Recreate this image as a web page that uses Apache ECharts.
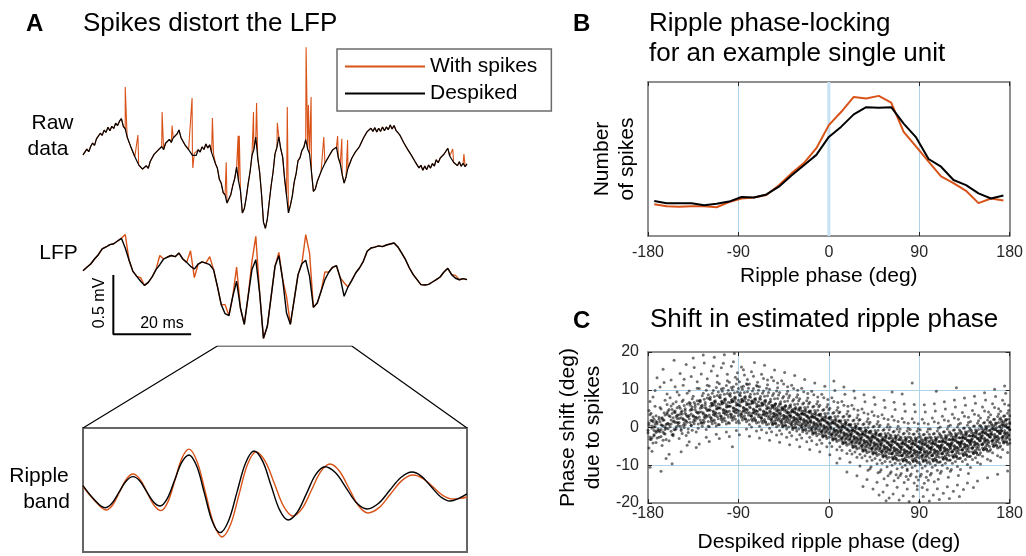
<!DOCTYPE html>
<html>
<head>
<meta charset="utf-8">
<script src="https://cdn.jsdelivr.net/npm/echarts@6.0.0/dist/echarts.min.js"></script>
<style>
  html, body { margin: 0; padding: 0; background: #fff; }
  #chart { width: 1026px; height: 556px; }
</style>
</head>
<body>
<div id="chart"></div>
<script>
// ---------- Panel A: 100 ms of hippocampal recording (µV) ----------
const rawStepMs = 0.5;
const rawDespiked = [
  -128,-143,-78,-100,-56,-26,-46,10,2,58,40,85,65,110,80,117,99,144,124,161,
  184,117,96,25,9,-63,-71,-143,-151,-213,-200,-249,-259,-221,-243,-184,-186,-123,-135,-89,
  -104,-56,-83,-28,-38,6,-21,19,4,52,86,22,9,-39,-28,-83,-84,-131,-114,-131,
  -83,-103,-59,-81,-34,-68,-42,-108,-119,-203,-242,-336,-371,-451,-471,-540,-504,-467,-390,-331,
  -233,-353,-433,-625,-590,-496,-376,-274,-133,-81,25,-153,-276,-467,-704,-757,-676,-531,-390,-274,
  -119,-63,28,-77,-147,-331,-476,-625,-561,-481,-361,-288,-176,-153,-90,-63,4,-77,-119,-274,
  -440,-420,-356,-343,-271,-265,-199,-201,-142,-143,-85,-101,-61,-153,-204,-296,-370,-317,-242,-229,
  -156,-158,-99,-108,-56,-51,15,14,72,57,101,74,106,69,101,74,111,79,112,88,
  129,94,124,83,96,43,44,-21,-25,-78,-71,-130,-128,-187,-185,-239,-217,-260,-223,-254,
  -214,-241,-202,-223,-169,-195,-156,-169,-122,-127,-71,-137,-142,-191,-179,-220,-186,-225,-199,-229,
  -204
];
// spike peaks present only in the unprocessed trace: [ms, µV]
const rawSpikes = [
  [11.0,454],[14.3,43],[20.6,240],[23.2,123],[28.4,360],[28.6,-240],[33.7,189],[37.3,-191],
  [40.4,37],[40.7,37],[44.4,240],[45.2,317],[50.6,148],[53.2,283],[58.1,794],[58.7,300],
  [59.4,368],[62.7,26],[66.3,34],[67.4,10],[68.9,0],[96.3,-77],[99.2,-120]
];

const lfpStepMs = 1;
const lfpDespiked = [
  20,49,77,120,157,206,223,243,251,274,297,214,109,14,-29,-71,-106,-80,-34,29,
  71,120,137,150,140,171,120,91,57,34,77,95,85,71,29,-114,-271,-349,-365,-200,
  -71,-300,-440,-200,29,114,-171,-560,-457,-200,57,149,-57,-343,-440,-229,-14,80,109,-29,
  -295,-257,-157,-57,6,49,63,-43,-200,-120,-63,0,43,100,186,214,222,232,226,240,
  249,257,223,171,114,43,-14,-57,-100,-103,-97,-77,-57,-34,9,40,-14,-45,-58,-48,
  -57
];
const lfpWithSpikes = [
  20,49,77,120,157,206,223,243,251,274,297,330,109,14,-29,-40,-106,-80,-34,29,
  150,120,137,150,140,171,120,91,190,-40,77,95,85,140,29,-114,-271,-271,-365,-200,
  50,-300,-440,-200,100,314,-171,-560,-457,-200,57,177,-57,-200,-440,-229,-14,80,329,171,
  -295,-257,-157,10,6,49,63,-43,-83,-120,-63,0,43,100,186,214,222,232,226,240,
  249,257,223,171,114,43,-14,-57,-100,-103,-97,-77,-57,-34,9,40,-14,-20,-58,-48,
  -57
];

// ripple-band filtered signal inside the zoomed window (ms, µV)
const rippleWindow = [35, 70];
const rippleTimesDespiked = [35.0,36.0,37.0,37.64,38.28,38.92,39.56,40.18,40.79,41.41,42.02,42.68,43.34,44.0,
  44.66,45.37,46.08,46.78,47.49,48.27,49.04,49.82,50.59,51.37,52.14,52.92,53.69,54.53,55.38,56.22,
  57.06,58.02,58.98,59.93,60.89,61.92,62.94,63.97,64.99,65.86,66.72,67.59,68.45,69.2,70.0];
const rippleDespiked = [37,-80,-153,-114,-19,76,115,78,-12,-101,-138,-74,82,238,
  302,204,-33,-270,-368,-265,-16,233,336,249,39,-172,-259,-192,-29,134,
  201,148,19,-111,-164,-117,-5,108,155,118,30,-58,-95,-75,-34];
const rippleTimesWithSpikes = [35.0,36.05,37.1,37.72,38.33,38.95,39.56,40.2,40.84,41.47,42.11,42.75,43.39,44.02,
  44.66,45.41,46.17,46.92,47.67,48.45,49.22,49.99,50.77,51.61,52.46,53.3,54.14,54.98,55.83,56.67,
  57.51,58.38,59.25,60.11,60.98,62.01,63.03,64.06,65.08,65.99,66.91,67.82,68.73,69.4,70.0];
const rippleWithSpikes = [30,-90,-172,-127,-17,93,138,92,-20,-132,-178,-100,88,275,
  353,242,-26,-294,-405,-298,-39,221,328,247,52,-143,-224,-159,0,159,
  224,162,13,-136,-198,-150,-34,81,129,99,26,-48,-78,-72,-60];

const scaleBarMs = 20;
const scaleBarUv = 500;

// ---------- Panel B: spike counts per ripple-phase bin ----------
const phaseBins = [-173.8,-161.4,-149.0,-136.6,-124.1,-111.7,-99.3,-86.9,-74.5,-62.1,-49.7,-37.2,-24.8,-12.4,
  0,12.4,24.8,37.2,49.7,62.1,74.5,86.9,99.3,111.7,124.1,136.6,149.0,161.4,173.8];
const countsWithSpikes = [62,58,57,58,58,56,66,73,75,80,99,122,142,171,216,242,271,268,273,260,
  203,174,145,116,103,88,64,73,69];
const countsDespiked = [68,64,64,64,60,63,67,76,75,81,96,118,138,158,193,213,237,251,250,251,
  219,192,150,135,109,99,83,73,79];

// ---------- Panel C: per-spike phase shift, pairs of [despiked phase, shift] ----------
const shiftPoints = [
-179,1.2,-178,-2.5,-177,3.8,-176,0.4,-175,-4.1,-174,2.2,-173,5.6,-172,-1.3,-171,0.9,-180,-0.7,-179,4.5,-177,-3.2,-176,1.8,-174,-1.9,-173,0.2,-172,3.1,-171,-2.8,-178,6.9,-175,1.5,-170,-0.4,-176,-6.3,-173,9.8,-171,13.2,-178,-10.5,-175,8.1,-179,-5.4,-174,-0.8,-172,1.6,
-169,2.7,-168,-1.1,-167,4.9,-166,0.6,-165,-3.4,-164,2.0,-163,7.2,-162,-0.2,-161,3.5,-160,1.1,-169,-2.6,-168,5.3,-166,-4.8,-165,1.9,-164,3.9,-163,-1.7,-162,0.8,-161,6.1,-167,-0.5,-160,4.4,-168,10.7,-165,15.4,-162,-8.2,-164,11.9,-167,-11.6,-161,8.9,-166,2.4,-163,0.1,
-159,3.1,-158,0.2,-157,5.7,-156,-1.9,-155,2.6,-154,4.2,-153,-0.6,-152,6.8,-151,1.4,-150,3.3,-159,-3.5,-158,7.9,-157,0.9,-156,4.8,-155,-2.2,-154,1.7,-153,3.9,-152,-0.3,-151,5.2,-150,0.5,-157,12.6,-154,17.8,-151,9.4,-159,-7.1,-153,10.8,-156,-9.6,-155,6.3,-152,2.9,
-149,2.4,-148,5.1,-147,-0.8,-146,3.6,-145,7.3,-144,1.2,-143,4.5,-142,-2.1,-141,6.2,-140,2.9,-149,8.6,-148,0.3,-147,4.1,-146,-1.6,-145,2.3,-144,5.8,-143,0.7,-142,3.4,-141,9.1,-140,-0.4,-148,14.3,-145,11.2,-142,16.7,-147,-6.4,-144,12.8,-141,-4.7,-146,6.9,-143,1.9,-149,-2.9,
-139,3.2,-138,6.4,-137,0.5,-136,4.7,-135,8.3,-134,2.1,-133,5.5,-132,-1.2,-131,7.1,-130,3.8,-139,9.7,-138,1.3,-137,4.9,-136,-0.7,-135,3.0,-134,6.6,-133,1.8,-132,4.2,-131,10.4,-130,0.9,-137,13.5,-134,15.9,-131,12.1,-139,-3.8,-135,18.4,-132,-5.3,-136,7.6,-133,2.7,-138,5.9,-130,6.2,
-129,4.1,-128,7.2,-127,1.4,-126,5.3,-125,9.1,-124,2.8,-123,6.0,-122,-0.5,-121,7.8,-120,4.6,-129,10.3,-128,2.0,-127,5.7,-126,0.3,-125,3.9,-124,7.5,-123,2.5,-122,5.0,-121,11.2,-120,1.6,-127,14.2,-124,17.1,-121,12.9,-129,-4.4,-125,19.2,-122,-2.6,-126,8.4,-123,3.3,-128,6.8,-120,8.7,-125,1.1,-122,9.9,
-119,4.8,-118,8.0,-117,2.1,-116,6.0,-115,9.8,-114,3.5,-113,6.7,-112,0.4,-111,8.5,-110,5.2,-119,11.0,-118,2.7,-117,6.4,-116,1.0,-115,4.4,-114,8.2,-113,3.1,-112,5.6,-111,12.0,-110,2.3,-117,15.0,-114,18.6,-111,13.7,-119,-3.7,-115,16.3,-112,-1.8,-116,9.1,-113,4.0,-118,7.4,-110,9.4,-115,1.7,-112,10.6,-119,0.2,-114,6.1,
-109,5.2,-108,8.6,-107,2.6,-106,6.5,-105,10.4,-104,3.9,-103,7.2,-102,0.9,-101,9.0,-100,5.7,-109,11.6,-108,3.1,-107,6.9,-106,1.5,-105,4.8,-104,8.8,-103,3.5,-102,6.1,-101,12.4,-100,2.8,-107,15.8,-104,19.3,-101,14.1,-109,-2.9,-105,17.0,-102,-1.2,-106,9.6,-103,4.5,-108,7.9,-100,9.9,-105,2.1,-102,11.1,-109,0.7,-104,6.6,-107,10.2,-101,4.2,
-99,5.6,-98,9.0,-97,3.0,-96,6.9,-95,10.8,-94,4.3,-93,7.6,-92,1.3,-91,9.4,-90,6.1,-99,12.0,-98,3.5,-97,7.3,-96,1.9,-95,5.2,-94,9.2,-93,3.9,-92,6.5,-91,12.8,-90,3.2,-97,16.2,-94,19.6,-91,14.5,-99,-2.4,-95,17.4,-92,-0.8,-96,10.0,-93,4.9,-98,8.3,-90,10.3,-95,2.5,-92,11.5,-99,1.1,-94,7.0,-97,10.6,-91,4.6,-93,13.3,-96,-5.1,
-89,5.8,-88,9.2,-87,3.2,-86,7.0,-85,10.9,-84,4.5,-83,7.7,-82,1.5,-81,9.5,-80,6.2,-89,12.1,-88,3.6,-87,7.4,-86,2.0,-85,5.3,-84,9.3,-83,4.0,-82,6.6,-81,12.7,-80,3.3,-87,16.0,-84,13.9,-81,11.4,-89,-1.9,-85,15.3,-82,-0.4,-86,10.1,-83,5.0,-88,8.4,-80,10.4,-85,2.6,-82,11.6,-89,1.2,-84,7.1,-87,10.7,-81,4.7,-83,2.2,-86,4.1,
-79,5.4,-78,8.8,-77,2.9,-76,6.6,-75,10.3,-74,4.1,-73,7.3,-72,1.2,-71,9.0,-70,5.8,-79,11.5,-78,3.2,-77,7.0,-76,1.7,-75,4.9,-74,8.9,-73,3.6,-72,6.2,-71,12.0,-70,2.9,-77,14.8,-74,17.2,-71,10.9,-79,-2.3,-75,13.6,-72,-0.9,-76,9.7,-73,4.6,-78,8.0,-70,9.9,-75,2.2,-72,11.1,-79,0.8,-74,6.7,-77,0.1,-71,4.3,-73,2.0,-76,3.8,
-69,4.9,-68,8.2,-67,2.4,-66,6.1,-65,9.7,-64,3.6,-63,6.8,-62,0.7,-61,8.4,-60,5.3,-69,10.8,-68,2.7,-67,6.5,-66,1.2,-65,4.4,-64,8.3,-63,3.1,-62,5.7,-61,11.3,-60,2.4,-67,14.1,-64,16.5,-61,12.6,-69,-2.8,-65,13.0,-62,-1.4,-66,9.1,-63,4.1,-68,7.5,-60,9.3,-65,1.7,-62,10.4,-69,0.3,-64,6.2,-67,-0.6,-61,3.8,-63,1.5,-66,3.3,
-59,4.3,-58,7.5,-57,1.9,-56,5.5,-55,9.0,-54,3.1,-53,6.2,-52,0.2,-51,7.7,-50,4.7,-59,10.1,-58,2.2,-57,5.9,-56,0.7,-55,3.8,-54,7.6,-53,2.6,-52,5.1,-51,10.5,-50,1.9,-57,13.3,-54,15.2,-51,11.8,-59,-3.4,-55,12.4,-52,-2.0,-56,8.5,-53,3.6,-58,6.9,-50,8.6,-55,1.2,-52,9.7,-59,-0.2,-54,5.6,-57,-1.1,-51,3.2,-53,1.0,-56,2.8,
-49,3.7,-48,6.8,-47,1.3,-46,4.9,-45,8.2,-44,2.5,-43,5.6,-42,-0.4,-41,7.0,-40,4.0,-49,9.3,-48,1.6,-47,5.2,-46,0.1,-45,3.2,-44,6.9,-43,2.0,-42,4.5,-41,9.6,-40,1.3,-47,12.4,-44,14.6,-41,10.8,-49,-3.9,-45,11.5,-42,-2.6,-46,7.8,-43,3.0,-48,6.2,-40,7.9,-45,0.6,-42,8.9,-49,-0.8,-44,4.9,-47,-1.7,-41,2.6,-43,0.4,-46,2.2,
-39,3.1,-38,6.0,-37,0.8,-36,4.2,-35,7.4,-34,1.9,-33,4.9,-32,-0.9,-31,6.2,-30,3.3,-39,8.5,-38,1.0,-37,4.5,-36,-0.5,-35,2.6,-34,6.1,-33,1.4,-32,3.8,-31,8.7,-30,0.7,-37,11.2,-34,13.8,-31,9.9,-39,-4.6,-35,10.3,-32,-3.2,-36,7.0,-33,2.4,-38,5.4,-30,7.1,-35,0.0,-32,8.0,-39,-1.3,-34,4.2,-37,-2.2,-31,2.0,-33,-0.2,-36,1.6,-38,3.0,-30,4.9,
-29,2.4,-28,5.2,-27,0.2,-26,3.5,-25,6.5,-24,1.2,-23,4.1,-22,-1.5,-21,5.4,-20,2.6,-29,7.6,-28,0.4,-27,3.8,-26,-1.1,-25,1.9,-24,5.3,-23,0.7,-22,3.1,-21,7.8,-20,0.0,-27,10.4,-24,12.7,-21,9.0,-29,-5.1,-25,9.5,-22,-3.8,-26,6.2,-23,1.7,-28,4.6,-20,6.3,-25,-0.6,-22,7.1,-29,-1.9,-24,3.5,-27,-2.8,-21,1.3,-23,-0.8,-26,0.9,-28,2.3,-20,4.1,
-19,1.7,-18,4.4,-17,-0.5,-16,2.7,-15,5.6,-14,0.4,-13,3.3,-12,-2.2,-11,4.6,-10,1.8,-19,6.7,-18,-0.4,-17,3.0,-16,-1.8,-15,1.1,-14,4.5,-13,-0.1,-12,2.3,-11,6.9,-10,-0.8,-17,9.6,-14,11.8,-11,8.1,-19,-5.8,-15,8.7,-12,-4.5,-16,5.4,-13,0.9,-18,3.8,-10,5.5,-15,-1.4,-12,6.2,-19,-2.6,-14,2.7,-17,-3.5,-11,0.5,-13,-1.6,-16,0.1,-18,1.5,-10,3.3,
-9,1.0,-8,3.6,-7,-1.2,-6,2.0,-5,4.8,-4,-0.3,-3,2.5,-2,-2.9,-1,3.8,0,1.0,-9,5.9,-8,-1.1,-7,2.2,-6,-2.5,-5,0.3,-4,3.7,-3,-0.9,-2,1.5,-1,6.1,0,-1.6,-7,8.8,-4,10.9,-1,7.4,-9,-6.4,-5,7.9,-2,-5.1,-6,4.6,-3,0.1,-8,3.0,0,4.7,-5,-2.1,-2,5.4,-9,-3.3,-4,1.9,-7,-4.2,-1,-0.3,-3,-2.4,-6,-0.7,-8,0.7,0,2.6,
1,0.2,2,2.8,3,-2.0,4,1.2,5,4.0,6,-1.1,7,1.7,8,-3.7,9,3.0,10,0.2,1,5.1,2,-1.9,3,1.4,4,-3.3,5,-0.5,6,2.9,7,-1.7,8,0.7,9,5.3,10,-2.4,3,7.9,6,9.8,9,6.6,1,-7.2,5,6.9,8,-5.9,4,3.8,7,-0.7,2,2.2,10,3.9,5,-2.9,8,4.6,1,-4.1,6,1.1,3,-5.0,9,-1.1,7,-3.2,4,-1.5,2,-0.1,10,1.8,5,12.3,8,-9.4,
11,-0.8,12,1.8,13,-3.0,14,0.2,15,3.0,16,-2.1,17,0.7,18,-4.7,19,2.0,20,-0.8,11,4.1,12,-2.9,13,0.4,14,-4.3,15,-1.5,16,1.9,17,-2.7,18,-0.3,19,4.3,20,-3.4,13,6.9,16,8.8,19,5.6,11,-8.2,15,5.9,18,-6.9,14,2.8,17,-1.7,12,1.2,20,2.9,15,-3.9,18,3.6,11,-5.1,16,0.1,13,-6.0,19,-2.1,17,-4.2,14,-2.5,12,-1.1,20,0.8,15,10.7,18,-11.8,13,-0.5,17,1.3,
21,-1.8,22,0.8,23,-4.0,24,-0.8,25,2.0,26,-3.1,27,-0.3,28,-5.7,29,1.0,30,-1.8,21,3.1,22,-3.9,23,-0.6,24,-5.3,25,-2.5,26,0.9,27,-3.7,28,-1.3,29,3.3,30,-4.4,23,5.9,26,7.8,29,4.6,21,-9.2,25,4.9,28,-7.9,24,1.8,27,-2.7,22,0.2,30,1.9,25,-4.9,28,2.6,21,-6.1,26,-0.9,23,-7.0,29,-3.1,27,-5.2,24,-3.5,22,-2.1,30,-0.2,25,9.7,28,-12.8,23,-1.5,27,0.3,26,-6.5,21,-2.9,
31,-2.8,32,-0.2,33,-5.0,34,-1.8,35,1.0,36,-4.1,37,-1.3,38,-6.7,39,0.0,40,-2.8,31,2.1,32,-4.9,33,-1.6,34,-6.3,35,-3.5,36,-0.1,37,-4.7,38,-2.3,39,2.3,40,-5.4,33,4.9,36,6.8,39,3.6,31,-10.2,35,3.9,38,-8.9,34,0.8,37,-3.7,32,-0.8,40,0.9,35,-5.9,38,1.6,31,-7.1,36,-1.9,33,-8.0,39,-4.1,37,-6.2,34,-4.5,32,-3.1,40,-1.2,35,8.7,38,-13.8,33,-2.5,37,-0.7,36,-7.5,31,-3.9,34,-15.6,39,-11.3,
41,-3.5,42,-0.9,43,-5.7,44,-2.5,45,0.3,46,-4.8,47,-2.0,48,-7.4,49,-0.7,50,-3.5,41,1.4,42,-5.6,43,-2.3,44,-7.0,45,-4.2,46,-0.8,47,-5.4,48,-3.0,49,1.6,50,-6.1,43,4.2,46,6.1,49,2.9,41,-10.9,45,3.2,48,-9.6,44,0.1,47,-4.4,42,-1.5,50,0.2,45,-6.6,48,0.9,41,-7.8,46,-2.6,43,-8.7,49,-4.8,47,-6.9,44,-5.2,42,-3.8,50,-1.9,45,8.0,48,-14.5,43,-3.2,47,-1.4,46,-8.2,41,-4.6,44,-16.3,49,-12.0,42,-10.4,50,-17.9,
51,-4.3,52,-1.7,53,-6.5,54,-3.3,55,-0.5,56,-5.6,57,-2.8,58,-8.2,59,-1.5,60,-4.3,51,0.6,52,-6.4,53,-3.1,54,-7.8,55,-5.0,56,-1.6,57,-6.2,58,-3.8,59,0.8,60,-6.9,53,3.4,56,5.3,59,2.1,51,-11.7,55,2.4,58,-10.4,54,-0.7,57,-5.2,52,-2.3,60,-0.6,55,-7.4,58,0.1,51,-8.6,56,-3.4,53,-9.5,59,-5.6,57,-7.7,54,-6.0,52,-4.6,60,-2.7,55,7.2,58,-15.3,53,-4.0,57,-2.2,56,-9.0,51,-5.4,54,-17.1,59,-12.8,52,-11.2,60,-18.7,55,-13.6,57,-19.4,
61,-4.8,62,-2.2,63,-7.0,64,-3.8,65,-1.0,66,-6.1,67,-3.3,68,-8.7,69,-2.0,70,-4.8,61,0.1,62,-6.9,63,-3.6,64,-8.3,65,-5.5,66,-2.1,67,-6.7,68,-4.3,69,0.3,70,-7.4,63,2.9,66,4.8,69,1.6,61,-12.2,65,1.9,68,-10.9,64,-1.2,67,-5.7,62,-2.8,70,-1.1,65,-7.9,68,-0.4,61,-9.1,66,-3.9,63,-10.0,69,-6.1,67,-8.2,64,-6.5,62,-5.1,70,-3.2,65,6.7,68,-15.8,63,-4.5,67,-2.7,66,-9.5,61,-5.9,64,-17.6,69,-13.3,62,-11.7,70,-19.2,65,-14.1,67,-12.5,63,9.4,
71,-5.3,72,-2.7,73,-7.5,74,-4.3,75,-1.5,76,-6.6,77,-3.8,78,-9.2,79,-2.5,80,-5.3,71,-0.4,72,-7.4,73,-4.1,74,-8.8,75,-6.0,76,-2.6,77,-7.2,78,-4.8,79,-0.2,80,-7.9,73,2.4,76,4.3,79,1.1,71,-12.7,75,1.4,78,-11.4,74,-1.7,77,-6.2,72,-3.3,80,-1.6,75,-8.4,78,-0.9,71,-9.6,76,-4.4,73,-10.5,79,-6.6,77,-8.7,74,-7.0,72,-5.6,80,-3.7,75,6.2,78,-16.3,73,-5.0,77,-3.2,76,-10.0,71,-6.4,74,-18.1,79,-13.8,72,-12.2,80,-19.6,75,-14.6,77,-13.0,73,8.9,78,-11.0,
81,-5.5,82,-2.9,83,-7.6,84,-4.4,85,-1.7,86,-6.7,87,-3.9,88,-9.3,89,-2.6,90,-5.4,81,-0.5,82,-7.5,83,-4.2,84,-8.9,85,-6.1,86,-2.7,87,-7.3,88,-4.9,89,-0.3,90,-8.0,83,2.3,86,4.2,89,1.0,81,-12.8,85,1.3,88,-11.5,84,-1.8,87,-6.3,82,-3.4,90,-1.7,85,-8.5,88,-1.0,81,-9.7,86,-4.5,83,-10.6,89,-6.7,87,-8.8,84,-7.1,82,-5.7,90,-3.8,85,6.1,88,-16.4,83,-5.1,87,-3.3,86,-10.1,81,-6.5,84,-18.2,89,-13.9,82,-12.3,90,-19.7,85,-14.7,87,-13.1,83,11.8,88,-15.5,
91,-5.6,92,-3.0,93,-7.7,94,-4.5,95,-1.8,96,-6.8,97,-4.0,98,-9.4,99,-2.7,100,-5.5,91,-0.6,92,-7.6,93,-4.3,94,-9.0,95,-6.2,96,-2.8,97,-7.4,98,-5.0,99,-0.4,100,-8.1,93,2.2,96,4.1,99,0.9,91,-12.9,95,1.2,98,-11.6,94,-1.9,97,-6.4,92,-3.5,100,-1.8,95,-8.6,98,-1.1,91,-9.8,96,-4.6,93,-10.7,99,-6.8,97,-8.9,94,-7.2,92,-5.8,100,-3.9,95,6.0,98,-16.5,93,-5.2,97,-3.4,96,-10.2,91,-6.6,94,-18.3,99,-14.0,92,-12.4,100,-19.5,95,-14.8,97,-13.2,93,-15.9,
101,-5.4,102,-2.8,103,-7.5,104,-4.3,105,-1.6,106,-6.6,107,-3.8,108,-9.2,109,-2.5,110,-5.3,101,-0.4,102,-7.4,103,-4.1,104,-8.8,105,-6.0,106,-2.6,107,-7.2,108,-4.8,109,-0.2,110,-7.9,103,2.5,106,4.4,109,1.2,101,-12.6,105,1.5,108,-11.3,104,-1.7,107,-6.2,102,-3.3,110,-1.6,105,-8.4,108,-0.9,101,-9.6,106,-4.4,103,-10.5,109,-6.6,107,-8.7,104,-7.0,102,-5.6,110,-3.7,105,6.3,108,-16.2,103,-5.0,107,-3.2,106,-10.0,101,-6.4,104,-17.9,109,-13.7,102,-12.1,110,-19.1,105,-14.4,107,9.6,
111,-4.9,112,-2.3,113,-7.0,114,-3.8,115,-1.1,116,-6.1,117,-3.3,118,-8.7,119,-2.0,120,-4.8,111,0.1,112,-6.9,113,-3.6,114,-8.3,115,-5.5,116,-2.1,117,-6.7,118,-4.3,119,0.3,120,-7.4,113,3.0,116,4.9,119,1.7,111,-12.1,115,2.0,118,-10.8,114,-1.2,117,-5.7,112,-2.8,120,-1.1,115,-7.9,118,-0.4,111,-9.1,116,-3.9,113,-10.0,119,-6.1,117,-8.2,114,-6.5,112,-5.1,120,-3.2,115,6.8,118,-15.7,113,-4.5,117,-2.7,116,-9.5,111,-5.9,114,-17.4,119,-13.2,112,-11.6,120,-18.8,
121,-4.4,122,-1.8,123,-6.5,124,-3.3,125,-0.6,126,-5.6,127,-2.8,128,-8.2,129,-1.5,130,-4.3,121,0.6,122,-6.4,123,-3.1,124,-7.8,125,-5.0,126,-1.6,127,-6.2,128,-3.8,129,0.8,130,-6.9,123,3.5,126,5.4,129,2.2,121,-11.6,125,2.5,128,-10.3,124,-0.7,127,-5.2,122,-2.3,130,-0.6,125,-7.4,128,0.1,121,-8.6,126,-3.4,123,-9.5,129,-5.6,127,-7.7,124,-6.0,122,-4.6,130,-2.7,125,7.3,128,-15.2,123,-4.0,127,-2.2,126,-9.0,121,-5.4,124,-16.9,129,-12.7,122,-11.1,130,-18.3,127,10.5,
131,-3.9,132,-1.3,133,-6.0,134,-2.8,135,-0.1,136,-5.1,137,-2.3,138,-7.7,139,-1.0,140,-3.8,131,1.1,132,-5.9,133,-2.6,134,-7.3,135,-4.5,136,-1.1,137,-5.7,138,-3.3,139,1.3,140,-6.4,133,4.0,136,5.9,139,2.7,131,-11.1,135,3.0,138,-9.8,134,-0.2,137,-4.7,132,-1.8,140,-0.1,135,-6.9,138,0.6,131,-8.1,136,-2.9,133,-9.0,139,-5.1,137,-7.2,134,-5.5,132,-4.1,140,-2.2,135,7.8,138,-14.7,133,-3.5,137,-1.7,136,-8.5,131,-4.9,134,-16.4,139,-12.2,
141,-3.4,142,-0.8,143,-5.5,144,-2.3,145,0.4,146,-4.6,147,-1.8,148,-7.2,149,-0.5,150,-3.3,141,1.6,142,-5.4,143,-2.1,144,-6.8,145,-4.0,146,-0.6,147,-5.2,148,-2.8,149,1.8,150,-5.9,143,4.5,146,6.4,149,3.2,141,-10.6,145,3.5,148,-9.3,144,0.3,147,-4.2,142,-1.3,150,0.4,145,-6.4,148,1.1,141,-7.6,146,-2.4,143,-8.5,149,-4.6,147,-6.7,144,-5.0,142,-3.6,150,-1.7,145,8.3,148,-14.2,143,-3.0,147,-1.2,146,-8.0,141,-4.4,144,-15.9,
151,-2.5,152,0.1,153,-4.6,154,-1.4,155,1.3,156,-3.7,157,-0.9,158,-6.3,159,0.4,160,-2.4,151,2.5,152,-4.5,153,-1.2,154,-5.9,155,-3.1,156,0.3,157,-4.3,158,-1.9,159,2.7,160,-5.0,153,5.4,156,7.3,159,4.1,151,-9.7,155,4.4,158,-8.4,154,1.2,157,-3.3,152,-0.4,160,1.3,155,-5.5,158,2.0,151,-6.7,156,-1.5,153,-7.6,159,-3.7,157,-5.8,154,-4.1,152,-2.7,160,-0.8,155,9.2,158,-13.3,153,-2.1,157,-0.3,
161,-1.6,162,1.0,163,-3.7,164,-0.5,165,2.2,166,-2.8,167,0.0,168,-5.4,169,1.3,170,-1.5,161,3.4,162,-3.6,163,-0.3,164,-5.0,165,-2.2,166,1.2,167,-3.4,168,-1.0,169,3.6,170,-4.1,163,6.3,166,8.2,169,5.0,161,-8.8,165,5.3,168,-7.5,164,2.1,167,-2.4,162,0.5,170,2.2,165,-4.6,168,2.9,161,-5.8,166,-0.6,163,-6.7,169,-2.8,167,-4.9,164,-3.2,162,-1.8,170,0.1,165,10.1,168,-12.4,
171,-0.7,172,1.9,173,-2.8,174,0.4,175,3.1,176,-1.9,177,0.9,178,-4.5,179,2.2,180,-0.6,171,4.3,172,-2.7,173,0.6,174,-4.1,175,-1.3,176,2.1,177,-2.5,178,-0.1,179,4.5,180,-3.2,173,7.2,176,9.1,179,5.9,171,-7.9,175,6.2,178,-6.6,174,3.0,177,-1.5,172,1.4,180,3.1,175,-3.7,178,3.8,171,-4.9,176,0.3,173,-5.8,179,-1.9,177,-4.0,174,-2.3,172,-0.9,180,1.0,175,11.0,178,-11.5,
-180,-1.4,-179,0.6,-178,-3.1,-177,1.9,-176,-0.2,-175,2.8,-174,-2.2,-173,0.9,-172,-4.0,-171,1.4,-170,-1.0,-178,3.4,-176,-2.7,-174,0.1,-172,-0.9,
-169,-0.7,-168,1.5,-167,-2.4,-166,2.6,-165,0.4,-164,-1.6,-163,3.3,-162,-3.2,-161,1.0,-160,-0.3,-169,2.2,-167,0.7,-165,-1.2,-163,-0.5,-161,3.9,
-159,0.8,-158,2.9,-157,-1.0,-156,3.7,-155,1.6,-154,-0.5,-153,4.4,-152,0.2,-151,2.4,-150,1.1,-159,4.8,-157,2.0,-155,-1.8,-153,1.3,-151,3.2,
-149,1.3,-148,3.5,-147,-0.4,-146,4.4,-145,2.1,-144,0.0,-143,5.0,-142,1.7,-141,3.0,-140,-1.3,-149,5.6,-147,2.6,-145,0.6,-143,3.8,-141,1.4,
-139,2.3,-138,4.6,-137,0.6,-136,5.4,-135,3.1,-134,1.0,-133,6.1,-132,2.7,-131,4.0,-130,-0.2,-139,6.6,-137,3.6,-135,1.5,-133,4.8,-131,2.4,
-129,2.8,-128,5.1,-127,1.1,-126,5.9,-125,3.6,-124,1.5,-123,6.6,-122,3.2,-121,4.5,-120,0.3,-129,7.1,-127,4.1,-125,2.0,-123,5.3,-121,2.9,
-119,3.3,-118,5.6,-117,1.6,-116,6.4,-115,4.1,-114,2.0,-113,7.1,-112,3.7,-111,5.0,-110,0.8,-119,7.6,-118,4.6,-117,2.5,-116,5.8,-115,3.4,-114,6.9,-113,1.2,-112,4.9,-111,2.9,-110,6.2,
-109,3.8,-108,6.1,-107,2.1,-106,6.9,-105,4.6,-104,2.5,-103,7.6,-102,4.2,-101,5.5,-100,1.3,-109,8.1,-108,5.1,-107,3.0,-106,6.3,-105,3.9,-104,7.4,-103,1.7,-102,5.4,-101,3.4,-100,6.7,
-99,4.3,-98,6.6,-97,2.6,-96,7.4,-95,5.1,-94,3.0,-93,8.1,-92,4.7,-91,6.0,-90,1.8,-99,8.6,-98,5.6,-97,3.5,-96,6.8,-95,4.4,-94,7.9,-93,2.2,-92,5.9,-91,3.9,-90,7.2,
-89,4.4,-88,6.7,-87,2.7,-86,7.5,-85,5.2,-84,3.1,-83,8.2,-82,4.8,-81,6.1,-80,1.9,-89,8.7,-88,5.7,-87,3.6,-86,6.9,-85,4.5,-84,8.0,-83,2.3,-82,6.0,-81,4.0,-80,7.3,
-79,3.9,-78,6.2,-77,2.2,-76,7.0,-75,4.7,-74,2.6,-73,7.7,-72,4.3,-71,5.6,-70,1.4,-79,8.2,-78,5.2,-77,3.1,-76,6.4,-75,4.0,-74,7.5,-73,1.8,-72,5.5,-71,3.5,-70,6.8,
-69,3.4,-68,5.7,-67,1.7,-66,6.5,-65,4.2,-64,2.1,-63,7.2,-62,3.8,-61,5.1,-60,0.9,-69,7.7,-68,4.7,-67,2.6,-66,5.9,-65,3.5,-64,7.0,-63,1.3,-62,5.0,-61,3.0,-60,6.3,
-59,2.9,-58,5.0,-57,1.4,-56,5.8,-55,3.7,-54,1.8,-53,6.3,-52,3.3,-51,4.5,-50,0.6,-59,6.7,-58,4.2,-57,2.3,-56,5.3,-55,3.0,-54,6.0,-53,1.1,-52,4.4,-51,2.6,-50,5.6,-58,3.6,-56,0.9,-54,4.9,-52,2.0,-50,3.9,
-49,2.4,-48,4.5,-47,0.9,-46,5.3,-45,3.2,-44,1.3,-43,5.8,-42,2.8,-41,4.0,-40,0.1,-49,6.2,-48,3.7,-47,1.8,-46,4.8,-45,2.5,-44,5.5,-43,0.6,-42,3.9,-41,2.1,-40,5.1,-48,3.1,-46,0.4,-44,4.4,-42,1.5,-40,3.4,
-39,1.9,-38,4.0,-37,0.4,-36,4.8,-35,2.7,-34,0.8,-33,5.3,-32,2.3,-31,3.5,-30,-0.4,-39,5.7,-38,3.2,-37,1.3,-36,4.3,-35,2.0,-34,5.0,-33,0.1,-32,3.4,-31,1.6,-30,4.6,-38,2.6,-36,-0.1,-34,3.9,-32,1.0,-30,2.9,
-29,1.4,-28,3.5,-27,-0.1,-26,4.3,-25,2.2,-24,0.3,-23,4.8,-22,1.8,-21,3.0,-20,-0.9,-29,5.2,-28,2.7,-27,0.8,-26,3.8,-25,1.5,-24,4.5,-23,-0.4,-22,2.9,-21,1.1,-20,4.1,-28,2.1,-26,-0.6,-24,3.4,-22,0.5,-20,2.4,
-19,0.6,-18,2.7,-17,-0.9,-16,3.5,-15,1.4,-14,-0.5,-13,4.0,-12,1.0,-11,2.2,-10,-1.7,-19,4.4,-18,1.9,-17,0.0,-16,3.0,-15,0.7,-14,3.7,-13,-1.2,-12,2.1,-11,0.3,-10,3.3,-18,1.3,-16,-1.4,-14,2.6,-12,-0.3,-10,1.6,
-9,-0.3,-8,1.8,-7,-1.8,-6,2.6,-5,0.5,-4,-1.4,-3,3.1,-2,0.1,-1,1.3,0,-2.6,-9,3.5,-8,1.0,-7,-0.9,-6,2.1,-5,-0.2,-4,2.8,-3,-2.1,-2,1.2,-1,-0.6,0,2.4,-8,0.4,-6,-2.3,-4,1.7,-2,-1.2,0,0.7,
1,-1.1,2,1.0,3,-2.6,4,1.8,5,-0.3,6,-2.2,7,2.3,8,-0.7,9,0.5,10,-3.4,1,2.7,2,0.2,3,-1.7,4,1.3,5,-1.0,6,2.0,7,-2.9,8,0.4,9,-1.4,10,1.6,2,-0.4,4,-3.1,6,0.9,8,-2.0,10,-0.1,
11,-2.1,12,0.0,13,-3.6,14,0.8,15,-1.3,16,-3.2,17,1.3,18,-1.7,19,-0.5,20,-4.4,11,1.7,12,-0.8,13,-2.7,14,0.3,15,-2.0,16,1.0,17,-3.9,18,-0.6,19,-2.4,20,0.6,12,-1.4,14,-4.1,16,-0.1,18,-3.0,20,-1.1,
21,-3.1,22,-1.0,23,-4.6,24,-0.2,25,-2.3,26,-4.2,27,0.3,28,-2.7,29,-1.5,30,-5.4,21,0.7,22,-1.8,23,-3.7,24,-0.7,25,-3.0,26,0.0,27,-4.9,28,-1.6,29,-3.4,30,-0.4,22,-2.4,24,-5.1,26,-1.1,28,-4.0,30,-2.1,
31,-4.1,32,-2.0,33,-5.6,34,-1.2,35,-3.3,36,-5.2,37,-0.7,38,-3.7,39,-2.5,40,-6.4,31,-0.3,32,-2.8,33,-4.7,34,-1.7,35,-4.0,36,-1.0,37,-5.9,38,-2.6,39,-4.4,40,-1.4,32,-3.4,34,-6.1,36,-2.1,38,-5.0,40,-3.1,
41,-4.8,42,-2.7,43,-6.3,44,-1.9,45,-4.0,46,-5.9,47,-1.4,48,-4.4,49,-3.2,50,-7.1,41,-1.0,42,-3.5,43,-5.4,44,-2.4,45,-4.7,46,-1.7,47,-6.6,48,-3.3,49,-5.1,50,-2.1,42,-4.1,44,-6.8,46,-2.8,48,-5.7,50,-3.8,
51,-5.6,52,-3.5,53,-7.1,54,-2.7,55,-4.8,56,-6.7,57,-2.2,58,-5.2,59,-4.0,60,-7.9,51,-1.8,52,-4.3,53,-6.2,54,-3.2,55,-5.5,56,-2.5,57,-7.4,58,-4.1,59,-5.9,60,-2.9,52,-4.9,54,-7.6,56,-3.6,58,-6.5,60,-4.6,
61,-6.1,62,-3.8,63,-7.9,64,-3.0,65,-5.3,66,-7.5,67,-2.4,68,-5.8,69,-4.4,70,-8.7,61,-2.0,62,-4.7,63,-6.9,64,-3.5,65,-6.1,66,-2.8,67,-8.2,68,-4.5,69,-6.6,70,-3.2,62,-5.4,64,-8.4,66,-4.0,68,-7.2,70,-5.0,
71,-6.6,72,-4.3,73,-8.4,74,-3.5,75,-5.8,76,-8.0,77,-2.9,78,-6.3,79,-4.9,80,-9.2,71,-2.5,72,-5.2,73,-7.4,74,-4.0,75,-6.6,76,-3.3,77,-8.7,78,-5.0,79,-7.1,80,-3.7,72,-5.9,74,-8.9,76,-4.5,78,-7.7,80,-5.5,
81,-6.7,82,-4.4,83,-8.5,84,-3.6,85,-5.9,86,-8.1,87,-3.0,88,-6.4,89,-5.0,90,-9.3,81,-2.6,82,-5.3,83,-7.5,84,-4.1,85,-6.7,86,-3.4,87,-8.8,88,-5.1,89,-7.2,90,-3.8,82,-6.0,84,-9.0,86,-4.6,88,-7.8,90,-5.6,
91,-6.5,92,-4.2,93,-8.3,94,-3.4,95,-5.7,96,-7.9,97,-2.8,98,-6.2,99,-4.8,100,-9.1,91,-2.4,92,-5.1,93,-7.3,94,-3.9,95,-6.5,96,-3.2,97,-8.6,98,-4.9,99,-7.0,100,-3.6,92,-5.8,94,-8.8,96,-4.4,98,-7.6,100,-5.4,
101,-6.6,102,-4.3,103,-8.4,104,-3.5,105,-5.8,106,-8.0,107,-2.9,108,-6.3,109,-4.9,110,-9.2,101,-2.5,102,-5.2,103,-7.4,104,-4.0,105,-6.6,106,-3.3,107,-8.7,108,-5.0,109,-7.1,110,-3.7,102,-5.9,104,-8.9,106,-4.5,108,-7.7,110,-5.5,
111,-6.1,112,-3.8,113,-7.9,114,-3.0,115,-5.3,116,-7.5,117,-2.4,118,-5.8,119,-4.4,120,-8.7,111,-2.0,112,-4.7,113,-6.9,114,-3.5,115,-6.1,116,-2.8,117,-8.2,118,-4.5,119,-6.6,120,-3.2,112,-5.4,114,-8.4,116,-4.0,118,-7.2,120,-5.0,
121,-5.6,122,-3.3,123,-7.4,124,-2.5,125,-4.8,126,-7.0,127,-1.9,128,-5.3,129,-3.9,130,-8.2,121,-1.5,122,-4.2,123,-6.4,124,-3.0,125,-5.6,126,-2.3,127,-7.7,128,-4.0,129,-6.1,130,-2.7,122,-4.9,124,-7.9,126,-3.5,128,-6.7,130,-4.5,
131,-5.1,132,-2.8,133,-6.9,134,-2.0,135,-4.3,136,-6.5,137,-1.4,138,-4.8,139,-3.4,140,-7.7,131,-1.0,132,-3.7,133,-5.9,134,-2.5,135,-5.1,136,-1.8,137,-7.2,138,-3.5,139,-5.6,140,-2.2,132,-4.4,134,-7.4,136,-3.0,138,-6.2,140,-4.0,
141,-4.6,142,-2.3,143,-6.4,144,-1.5,145,-3.8,146,-6.0,147,-0.9,148,-4.3,149,-2.9,150,-7.2,141,-0.5,142,-3.2,143,-5.4,144,-2.0,145,-4.6,146,-1.3,147,-6.7,148,-3.0,149,-5.1,150,-1.7,142,-3.9,144,-6.9,146,-2.5,148,-5.7,150,-3.5,
151,-3.6,152,-1.3,153,-5.4,154,-0.5,155,-2.8,156,-5.0,157,0.1,158,-3.3,159,-1.9,160,-6.2,151,0.5,152,-2.2,153,-4.4,154,-1.0,155,-3.6,156,-0.3,157,-5.7,158,-2.0,159,-4.1,160,-0.7,152,-2.9,154,-5.9,156,-1.5,158,-4.7,160,-2.5,
161,-2.6,162,-0.3,163,-4.4,164,0.5,165,-1.8,166,-4.0,167,1.1,168,-2.3,169,-0.9,170,-5.2,161,1.5,162,-1.2,163,-3.4,164,0.0,165,-2.6,166,0.7,167,-4.7,168,-1.0,169,-3.1,170,0.3,162,-1.9,164,-4.9,166,-0.5,168,-3.7,170,-1.5,
171,-1.6,172,0.7,173,-3.4,174,1.5,175,-0.8,176,-3.0,177,2.1,178,-1.3,179,0.1,180,-4.2,171,2.5,172,-0.2,173,-2.4,174,1.0,175,-1.6,176,1.7,177,-3.7,178,0.0,179,-2.1,180,1.3,172,-0.9,174,-3.9,176,0.5,178,-2.7,180,-0.5
];

// ---------- build series data ----------
const ORANGE = '#D95319';
const FONT = '"Liberation Sans", Arial, Helvetica, sans-serif';
const TICK = '#262626';
const BOX = '#6b6b6b';

const rawBlack = rawDespiked.map((v, i) => [i * rawStepMs, v]);
const rawOrange = rawBlack.concat(rawSpikes).sort((a, b) => a[0] - b[0]);
const lfpBlack = lfpDespiked.map((v, i) => [i * lfpStepMs, v]);
const lfpOrange = lfpWithSpikes.map((v, i) => [i * lfpStepMs, v]);
const ripBlack = rippleTimesDespiked.map((t, i) => [t, rippleDespiked[i]]);
const ripOrange = rippleTimesWithSpikes.map((t, i) => [t, rippleWithSpikes[i]]);
const phaseBlack = phaseBins.map((p, i) => [p, countsDespiked[i]]);
const phaseOrange = phaseBins.map((p, i) => [p, countsWithSpikes[i]]);
const scatterData = [];
for (let i = 0; i < shiftPoints.length; i += 2) scatterData.push([shiftPoints[i], shiftPoints[i + 1]]);

// scale bar anchored at the lower-left corner (ms, µV) in the LFP panel
const barCorner = [7.9, -526];
const scaleBar = [[barCorner[0], barCorner[1] + scaleBarUv], barCorner, [barCorner[0] + scaleBarMs, barCorner[1]]];

const hiddenX = (grid, min, max) => ({ type: 'value', gridIndex: grid, min, max, show: false });
const hiddenY = (grid, min, max) => ({ type: 'value', gridIndex: grid, min, max, show: false });
const tickStyle = { show: true, inside: true, length: 4, lineStyle: { color: TICK, width: 1 } };
const gridLine = { show: true, showMinLine: false, showMaxLine: false, lineStyle: { color: '#aed2ea', width: 1 } };
const boxLine = { show: true, onZero: false, lineStyle: { color: BOX, width: 1.5 } };

function txt(text, x, y, size, opts) {
  opts = opts || {};
  return {
    type: 'text', x, y, rotation: opts.rotation || 0, z: 50,
    style: {
      text, fill: '#000',
      font: (opts.bold ? 'bold ' : '') + size + 'px ' + FONT,
      textAlign: opts.align || 'left', textVerticalAlign: 'middle'
    }
  };
}

const chart = echarts.init(document.getElementById('chart'), null, { renderer: 'canvas' });
chart.setOption({
  animation: false,
  backgroundColor: '#fff',
  textStyle: { fontFamily: FONT },
  legend: {
    data: ['With spikes', 'Despiked'],
    orient: 'vertical', left: 337, top: 49,
    icon: 'rect', itemWidth: 80, itemHeight: 2, itemGap: 6,
    padding: [7, 14, 7, 8],
    borderColor: BOX, borderWidth: 1.5,
    selectedMode: false,
    textStyle: { fontSize: 21, color: '#000', fontFamily: FONT }
  },
  grid: [
    { left: 83, top: 40, width: 384, height: 200 },                      // raw
    { left: 83, top: 203, width: 384, height: 140 },                     // LFP
    { left: 83, top: 346, width: 384, height: 82 },                      // zoom connector
    { left: 83, top: 428, width: 384, height: 124, show: true, borderColor: '#666', borderWidth: 2, backgroundColor: 'transparent' },
    { left: 648, top: 82, width: 367, height: 154 },
    { left: 648, top: 352, width: 367, height: 151 }
  ],
  xAxis: [
    hiddenX(0, 0, 100),
    hiddenX(1, 0, 100),
    hiddenX(2, 0, 100),
    hiddenX(3, rippleWindow[0], rippleWindow[1]),
    { type: 'value', gridIndex: 4, min: -180, max: 180, interval: 90, position: 'bottom',
      axisLine: boxLine, axisTick: tickStyle, splitLine: gridLine,
      axisLabel: { fontSize: 16, color: TICK, margin: 9, fontFamily: FONT },
      name: 'Ripple phase (deg)', nameLocation: 'middle', nameGap: 30,
      nameTextStyle: { fontSize: 21, color: '#000', fontFamily: FONT } },
    { type: 'value', gridIndex: 4, min: -180, max: 180, interval: 90, position: 'top',
      axisLine: boxLine, axisTick: tickStyle, axisLabel: { show: false }, splitLine: { show: false } },
    { type: 'value', gridIndex: 5, min: -180, max: 180, interval: 90, position: 'bottom',
      axisLine: boxLine, axisTick: tickStyle, splitLine: gridLine,
      axisLabel: { fontSize: 16, color: TICK, margin: 3, fontFamily: FONT },
      name: 'Despiked ripple phase (deg)', nameLocation: 'middle', nameGap: 29,
      nameTextStyle: { fontSize: 21, color: '#000', fontFamily: FONT } },
    { type: 'value', gridIndex: 5, min: -180, max: 180, interval: 90, position: 'top',
      axisLine: boxLine, axisTick: tickStyle, axisLabel: { show: false }, splitLine: { show: false } }
  ],
  yAxis: [
    hiddenY(0, -857, 857),
    hiddenY(1, -600, 600),
    hiddenY(2, 0, 1),
    hiddenY(3, -535, 535),
    { type: 'value', gridIndex: 4, min: 0, max: 300, position: 'left',
      axisLine: boxLine, axisTick: { show: false }, axisLabel: { show: false }, splitLine: { show: false },
      name: 'Number\nof spikes', nameLocation: 'middle', nameGap: 8,
      nameTextStyle: { fontSize: 21, lineHeight: 25, color: '#000', fontFamily: FONT } },
    { type: 'value', gridIndex: 4, min: 0, max: 300, position: 'right',
      axisLine: boxLine, axisTick: { show: false }, axisLabel: { show: false }, splitLine: { show: false } },
    { type: 'value', gridIndex: 5, min: -20, max: 20, interval: 10, position: 'left',
      axisLine: boxLine, axisTick: tickStyle, splitLine: gridLine,
      axisLabel: { fontSize: 16, color: TICK, margin: 9, fontFamily: FONT },
      name: 'Phase shift (deg)\ndue to spikes', nameLocation: 'middle', nameGap: 42,
      nameTextStyle: { fontSize: 21, lineHeight: 25, color: '#000', fontFamily: FONT } },
    { type: 'value', gridIndex: 5, min: -20, max: 20, interval: 10, position: 'right',
      axisLine: boxLine, axisTick: tickStyle, axisLabel: { show: false }, splitLine: { show: false } }
  ],
  series: [
    { name: 'With spikes', type: 'line', xAxisIndex: 0, yAxisIndex: 0, data: rawOrange, color: ORANGE,
      showSymbol: false, lineStyle: { width: 1.1, color: ORANGE }, z: 2 },
    { name: 'Despiked', type: 'line', xAxisIndex: 0, yAxisIndex: 0, data: rawBlack, color: '#000',
      showSymbol: false, lineStyle: { width: 1.2, color: '#000' }, z: 3 },
    { name: 'With spikes', type: 'line', xAxisIndex: 1, yAxisIndex: 1, data: lfpOrange, color: ORANGE,
      showSymbol: false, lineStyle: { width: 1.4, color: ORANGE }, z: 2 },
    { name: 'Despiked', type: 'line', xAxisIndex: 1, yAxisIndex: 1, data: lfpBlack, color: '#000',
      showSymbol: false, lineStyle: { width: 1.4, color: '#000' }, z: 3 },
    { name: 'scale', type: 'line', xAxisIndex: 1, yAxisIndex: 1, data: scaleBar, color: '#000',
      showSymbol: false, lineStyle: { width: 2, color: '#000', cap: 'square' }, z: 3 },
    { name: 'zoom', type: 'line', xAxisIndex: 2, yAxisIndex: 2, color: '#000',
      data: [[0, 0], [rippleWindow[0], 1], [rippleWindow[1], 1], [100, 0]],
      showSymbol: false, lineStyle: { width: 1.2, color: '#000' }, z: 3 },
    { name: 'With spikes', type: 'line', xAxisIndex: 3, yAxisIndex: 3, data: ripOrange, color: ORANGE,
      smooth: 0.35, showSymbol: false, lineStyle: { width: 1.4, color: ORANGE }, z: 2 },
    { name: 'Despiked', type: 'line', xAxisIndex: 3, yAxisIndex: 3, data: ripBlack, color: '#000',
      smooth: 0.35, showSymbol: false, lineStyle: { width: 1.4, color: '#000' }, z: 3 },
    { name: 'zero phase', type: 'line', xAxisIndex: 4, yAxisIndex: 4, data: [[0, 0], [0, 300]], color: '#c6e1f3',
      showSymbol: false, lineStyle: { width: 3, color: '#c6e1f3' }, z: 1 },
    { name: 'With spikes', type: 'line', xAxisIndex: 4, yAxisIndex: 4, data: phaseOrange, color: ORANGE,
      showSymbol: false, lineStyle: { width: 2, color: ORANGE }, z: 2 },
    { name: 'Despiked', type: 'line', xAxisIndex: 4, yAxisIndex: 4, data: phaseBlack, color: '#000',
      showSymbol: false, lineStyle: { width: 2, color: '#000' }, z: 3 },
    { name: 'phase shift', type: 'scatter', xAxisIndex: 6, yAxisIndex: 6, data: scatterData,
      symbol: 'circle', symbolSize: 3, itemStyle: { color: 'rgba(0,0,0,0.7)' }, z: 2 }
  ],
  graphic: [
    txt('A', 26, 24, 24, { bold: true }),
    txt('Spikes distort the LFP', 83, 24, 26),
    txt('B', 573, 24, 24, { bold: true }),
    txt('Ripple phase-locking', 649, 24, 26),
    txt('for an example single unit', 649, 54, 26),
    txt('C', 573, 321, 24, { bold: true }),
    txt('Shift in estimated ripple phase', 650, 320, 26),
    txt('Raw', 52.5, 123, 21, { align: 'center' }),
    txt('data', 48, 149, 21, { align: 'center' }),
    txt('LFP', 58.5, 253, 21, { align: 'center' }),
    txt('Ripple', 39, 476, 21, { align: 'center' }),
    txt('band', 46.5, 502, 21, { align: 'center' }),
    txt('0.5 mV', 100, 303, 16, { align: 'center', rotation: Math.PI / 2 }),
    txt('20 ms', 162, 324, 16, { align: 'center' })
  ]
});
</script>
</body>
</html>
